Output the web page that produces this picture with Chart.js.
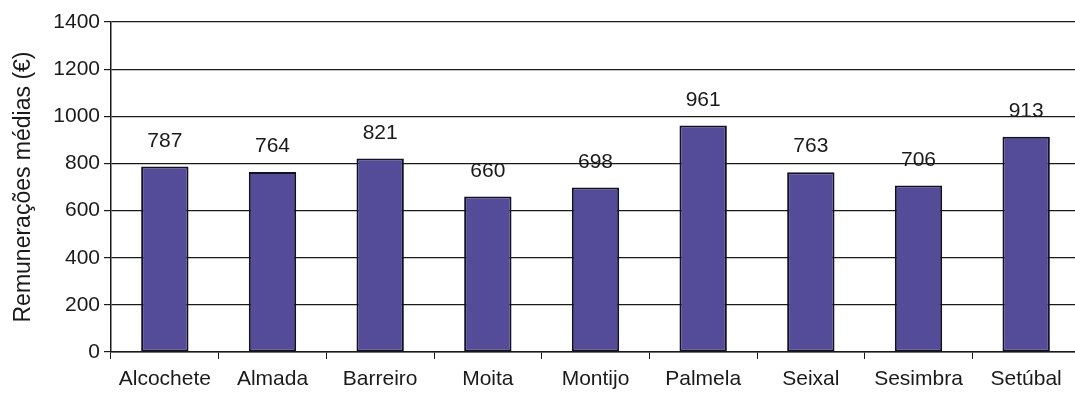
<!DOCTYPE html>
<html>
<head>
<meta charset="utf-8">
<script src="https://cdn.jsdelivr.net/npm/chart.js@4/dist/chart.umd.min.js"></script>
<style>
  html, body { margin: 0; padding: 0; background: #fff; overflow: hidden; }
  #wrap { width: 1075px; height: 398px; overflow: hidden; }
</style>
</head>
<body>
<div id="wrap"><canvas id="myChart" width="1080" height="398"></canvas></div>
<script>
const municipios = ['Alcochete', 'Almada', 'Barreiro', 'Moita', 'Montijo', 'Palmela', 'Seixal', 'Sesimbra', 'Setúbal'];
const remuneracoes = [787, 764, 821, 660, 698, 961, 763, 706, 913];
const yTicks = [0, 200, 400, 600, 800, 1000, 1200, 1400];

const fontFamily = '"Liberation Sans", Arial, sans-serif';

// value labels above each bar
const valueLabels = {
  id: 'valueLabels',
  afterDatasetsDraw(chart) {
    const c = chart.ctx;
    const meta = chart.getDatasetMeta(0);
    c.save();
    c.font = '21px ' + fontFamily;
    c.fillStyle = '#1a1a1a';
    c.textAlign = 'center';
    c.textBaseline = 'bottom';
    meta.data.forEach((bar, i) => {
      c.fillText(String(remuneracoes[i]), bar.x, bar.y - 15);
    });
    c.restore();
  }
};

const myChart = new Chart(document.getElementById('myChart'), {
  type: 'bar',
  data: {
    labels: municipios,
    datasets: [{
      data: remuneracoes,
      backgroundColor: 'rgb(84, 76, 152)',
      borderColor: '#121124',
      borderWidth: 2,
      borderSkipped: false,
      barPercentage: 0.44,
      categoryPercentage: 1
    }]
  },
  options: {
    responsive: false,
    animation: false,
    layout: { padding: { top: 22, right: 0, bottom: 0, left: 0 } },
    plugins: {
      legend: { display: false },
      tooltip: { enabled: false }
    },
    scales: {
      x: {
        afterFit: s => { s.height = 46; },
        grid: {
          drawOnChartArea: false,
          drawTicks: true,
          tickLength: 7,
          color: '#1a1a1a'
        },
        border: { color: '#1a1a1a', width: 1.5 },
        ticks: {
          color: '#1a1a1a',
          padding: 8,
          font: { family: fontFamily, size: 21 }
        }
      },
      y: {
        min: 0,
        max: 1400,
        afterBuildTicks: s => { s.ticks = yTicks.map(v => ({ value: v })); },
        afterFit: s => { s.width = 111; },
        grid: {
          color: '#1a1a1a',
          lineWidth: 1.2,
          drawTicks: true,
          tickLength: 7
        },
        border: { color: '#1a1a1a', width: 1.5 },
        ticks: {
          color: '#1a1a1a',
          padding: 4,
          callback: v => String(v),
          font: { family: fontFamily, size: 21 }
        },
        title: {
          display: true,
          text: 'Remunerações médias (€)',
          color: '#1a1a1a',
          padding: { top: 10, bottom: 0 },
          font: { family: fontFamily, size: 23 }
        }
      }
    }
  },
  plugins: [valueLabels]
});
</script>
</body>
</html>
